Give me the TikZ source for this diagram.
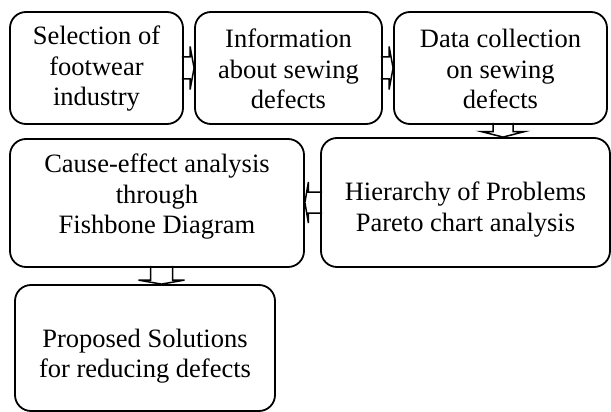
\documentclass[tikz,border=0pt]{standalone}
\usepackage{fontspec}
\setmainfont{Liberation Serif}
\usetikzlibrary{calc}
\pgfdeclarelayer{bg}
\pgfsetlayers{bg,main}
\begin{document}
\begin{tikzpicture}[x=1pt,y=-1pt,
  box/.style={draw, line width=1.8pt, rounded corners=16pt, inner sep=0pt},
  txt/.style={align=center, font=\fontsize{26.5}{30.5}\selectfont, inner sep=0pt},
  barrow/.style={draw, fill=white, line width=1.5pt, line join=miter}]
\useasboundingbox (0,0) rectangle (611,412);
% boxes
\node[box, minimum width=173pt, minimum height=112pt] (b1) at (96.5,68) {};
\node[box, minimum width=187pt, minimum height=112pt] (b2) at (288.5,68) {};
\node[box, minimum width=213pt, minimum height=112pt] (b3) at (500.5,68) {};
\node[box, minimum width=289pt, minimum height=129pt] (b4) at (465.5,202.5) {};
\node[box, minimum width=294pt, minimum height=128pt] (b5) at (157,203) {};
\node[box, minimum width=260pt, minimum height=126pt] (b6) at (145,348) {};
% texts
\node[txt] (t1) at ($(b1)+(0,1)$) {Selection of\\footwear\\industry};
\node[txt] (t2) at ($(b2)+(0,1)$) {Information\\about sewing\\defects};
\node[txt] (t3) at ($(b3)+(0,1)$) {Data collection\\on sewing\\defects};
\node[txt] (t4) at ($(b4)+(0,7)$) {Hierarchy of Problems\\Pareto chart analysis};
\node[txt] (t5) at ($(b5)+(0,-6)$) {Cause-effect analysis\\through\\Fishbone Diagram};
\node[txt] (t6) at ($(b6)+(0,8)$) {Proposed Solutions\\for reducing defects};
% block arrows
\begin{pgfonlayer}{bg}
% 1 -> 2
\draw[barrow] ($(b1.east)+(-2,-11)$) -- ($(b2.west)+(-4,-11)$) -- ($(b2.west)+(-4,-21.5)$)
  -- (b2.west) -- ($(b2.west)+(-4,21.5)$) -- ($(b2.west)+(-4,11)$) -- ($(b1.east)+(-2,11)$);
% 2 -> 3
\draw[barrow] ($(b2.east)+(-2,-11)$) -- ($(b3.west)+(-4,-11)$) -- ($(b3.west)+(-4,-21.5)$)
  -- (b3.west) -- ($(b3.west)+(-4,21.5)$) -- ($(b3.west)+(-4,11)$) -- ($(b2.east)+(-2,11)$);
% 3 -> 4
\coordinate (a3) at ($(b3.south)+(2.5,0)$);
\coordinate (a4) at (a3 |- b4.north);
\draw[barrow] ($(a3)+(-10,-2)$) -- ($(a4)+(-10,-5.5)$) -- ($(a4)+(-21.5,-5.5)$)
  -- (a4) -- ($(a4)+(21.5,-5.5)$) -- ($(a4)+(10,-5.5)$) -- ($(a3)+(10,-2)$);
% 4 -> 5
\coordinate (a5) at (b5.east |- b4.west);
\draw[barrow] ($(b4.west)+(2,-10.5)$) -- ($(a5)+(3.5,-10.5)$) -- ($(a5)+(3.5,-20.5)$)
  -- (a5) -- ($(a5)+(3.5,20.5)$) -- ($(a5)+(3.5,10.5)$) -- ($(b4.west)+(2,10.5)$);
% 5 -> 6
\coordinate (a6) at ($(b5.south)+(4.5,0)$);
\coordinate (a7) at (a6 |- b6.north);
\draw[barrow] ($(a6)+(-11,-2)$) -- ($(a7)+(-11,-4)$) -- ($(a7)+(-23,-4)$)
  -- (a7) -- ($(a7)+(23,-4)$) -- ($(a7)+(11,-4)$) -- ($(a6)+(11,-2)$);
\end{pgfonlayer}
\end{tikzpicture}
\end{document}
